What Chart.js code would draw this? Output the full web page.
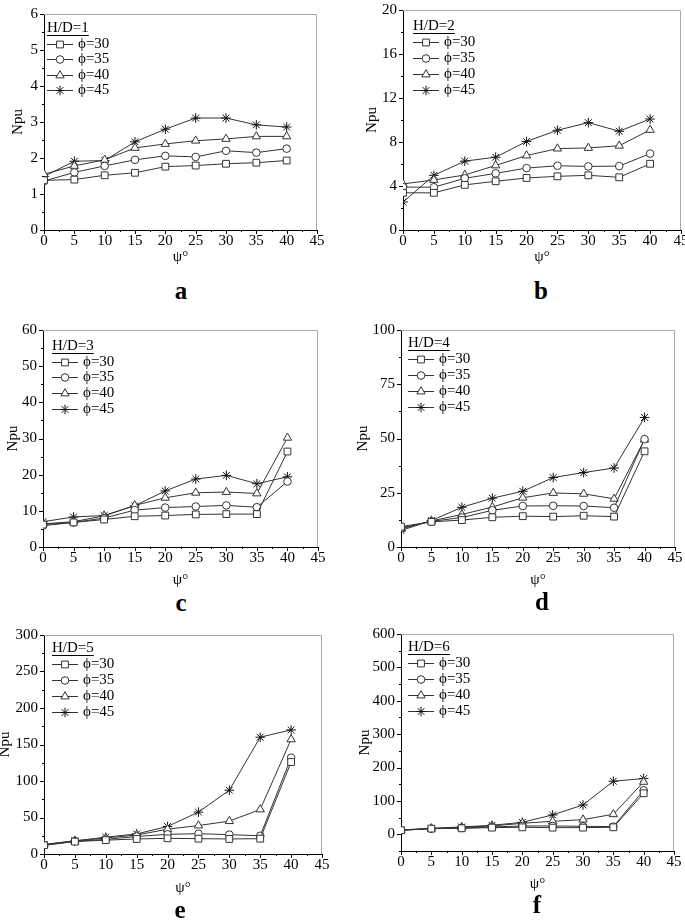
<!DOCTYPE html>
<html>
<head>
<meta charset="utf-8">
<script src="https://cdn.jsdelivr.net/npm/chart.js@4.4.0/dist/chart.umd.min.js"></script>
<style>
html,body{margin:0;padding:0;background:#fff;overflow:hidden;width:685px;height:921px}
.panel{position:absolute}
.tag{position:absolute;font:bold 25px "Liberation Serif",serif;transform:translate(-50%,-50%);color:#000}
</style>
</head>
<body>
<script>
// psi angle (x) and legend labels
const psi = [0,5,10,15,20,25,30,35,40];
const xTicks = [0,5,10,15,20,25,30,35,40,45];
const phiLabels = ['ϕ=30','ϕ=35','ϕ=40','ϕ=45'];

// Npu values, rows = phi 30, 35, 40, 45
const npuHD1 = [
  [1.38,1.40,1.52,1.59,1.76,1.79,1.84,1.87,1.93],
  [1.36,1.60,1.78,1.95,2.06,2.03,2.20,2.15,2.26],
  [1.55,1.78,1.95,2.28,2.39,2.48,2.53,2.60,2.60],
  [1.49,1.91,1.93,2.45,2.80,3.11,3.11,2.92,2.86]
];
const npuHD2 = [
  [3.38,3.38,4.10,4.43,4.73,4.88,4.97,4.79,6.02],
  [3.90,3.89,4.70,5.15,5.63,5.84,5.78,5.81,6.95],
  [4.19,4.55,5.00,5.87,6.77,7.40,7.46,7.66,9.10],
  [2.54,4.97,6.26,6.62,8.05,9.07,9.76,8.98,10.09]
];
const npuHD3 = [
  [6.2,6.8,7.6,8.5,8.7,9.0,9.1,9.1,26.4],
  [5.9,6.8,8.0,10.2,10.9,11.2,11.5,11.0,18.1],
  [6.4,7.0,8.6,11.5,13.6,15.0,15.2,14.8,30.2],
  [7.0,8.3,8.7,11.4,15.5,18.8,19.8,17.5,19.4]
];
const npuHD4 = [
  [9.4,11.6,12.4,13.7,14.2,14.0,14.4,14.0,44.1],
  [8.8,11.8,13.6,16.9,18.9,19.0,18.9,18.1,49.7],
  [8.3,12.0,15.0,18.4,22.7,24.9,24.5,22.2,49.5],
  [7.6,12.2,18.3,22.5,25.7,32.0,34.3,36.4,59.7]
];
const npuHD5 = [
  [12,17,19,20.6,21.5,21,20.6,21,126],
  [12,17.5,20,24,27,27.8,26.5,25,132],
  [13,18,22,26,34,39,45,61,157],
  [13,18,23,27.5,37.7,57.4,87.4,160,170]
];
const npuHD6 = [
  [12,17,18,20,21,20,20,21,123],
  [12,17,19,22,25,25,24,23,132],
  [13,17,21,25,33,39,44,60,157],
  [13,18,22,27,36,58,88,159,167]
];

const yTicksHD1 = [0,1,2,3,4,5,6];
const yTicksHD2 = [0,4,8,12,16,20];
const yTicksHD3 = [0,10,20,30,40,50,60];
const yTicksHD4 = [0,25,50,75,100];
const yTicksHD5 = [0,50,100,150,200,250,300];
const yTicksHD6 = [0,100,200,300,400,500,600];

// layout of each panel (plot area box in page pixels)
const panels = [
  {hd:'H/D=1', tag:'a', npu:npuHD1, yt:yTicksHD1, yMin:0, L:44, T:11, R:317, B:230, ny:18, xt:257, tx:181, ty:291, lg:{dx:3, dy:14, gap:15.5}},
  {hd:'H/D=2', tag:'b', npu:npuHD2, yt:yTicksHD2, yMin:0, L:403, T:7, R:681, B:230, ny:372, xt:257, tx:541, ty:291, lg:{dx:10, dy:16, gap:16}},
  {hd:'H/D=3', tag:'c', npu:npuHD3, yt:yTicksHD3, yMin:0, L:43, T:327, R:318, B:547, ny:13, xt:580, tx:181, ty:603, lg:{dx:9, dy:16, gap:15.7}},
  {hd:'H/D=4', tag:'d', npu:npuHD4, yt:yTicksHD4, yMin:0, L:401, T:327, R:675, B:547, ny:363, xt:580, tx:542, ty:602, lg:{dx:7, dy:13, gap:16}},
  {hd:'H/D=5', tag:'e', npu:npuHD5, yt:yTicksHD5, yMin:0, L:44, T:632, R:322, B:854, ny:5, xt:888, tx:180, ty:910, lg:{dx:8, dy:13, gap:16}},
  {hd:'H/D=6', tag:'f', npu:npuHD6, yt:yTicksHD6, yMin:-50, L:401, T:631, R:674, B:851, ny:365, xt:884, tx:537, ty:905, lg:{dx:7, dy:13, gap:16}}
];

const styles = ['rect','circle','triangle','star'];
const radii = [4.8,3.8,4.8,4.8];
const serif = '"Liberation Serif", "Times New Roman", serif';
const fsz = 15;

// top and right frame in light gray
const frame = {
  id:'frame',
  beforeDatasetsDraw(chart){
    const {ctx, chartArea:{left,top,right,bottom}} = chart;
    ctx.save();
    ctx.strokeStyle = '#a8a8a8'; ctx.lineWidth = 1;
    ctx.beginPath();
    ctx.moveTo(left, top+0.5); ctx.lineTo(right-0.5, top+0.5); ctx.lineTo(right-0.5, bottom);
    ctx.stroke();
    ctx.restore();
  }
};

// major + minor outward tick marks
const tickMarks = {
  id:'tickMarks',
  afterDraw(chart, args, opts){
    const {ctx, scales:{x,y}} = chart;
    ctx.save();
    ctx.strokeStyle = '#000'; ctx.lineWidth = 1;
    ctx.beginPath();
    const xs = (xTicks[1]-xTicks[0])/2;
    for (let v = x.min; v <= x.max + 1e-9; v += xs) {
      const px = Math.round(x.getPixelForValue(v)) + 0.5;
      const len = xTicks.includes(v) ? 4 : 2;
      ctx.moveTo(px, x.top); ctx.lineTo(px, x.top + len);
    }
    const ys = (opts.yt[1]-opts.yt[0])/2;
    for (let v = y.min; v <= y.max + 1e-9; v += ys) {
      const py = Math.round(y.getPixelForValue(v)) + 0.5;
      const len = opts.yt.includes(v) ? 4 : 2;
      ctx.moveTo(y.right, py); ctx.lineTo(y.right - len, py);
    }
    ctx.stroke();
    ctx.restore();
  }
};

// legend inside the plot, with underlined H/D title
const panelLegend = {
  id:'panelLegend',
  afterDraw(chart, args, opts){
    const {ctx, chartArea:{left, top}} = chart;
    const x0 = left + opts.dx, y0 = top + opts.dy;
    ctx.save();
    ctx.font = fsz + 'px ' + serif;
    ctx.textBaseline = 'middle'; ctx.textAlign = 'left';
    ctx.fillStyle = '#000';
    ctx.fillText(opts.title, x0, y0);
    const w = ctx.measureText(opts.title).width;
    ctx.strokeStyle = '#000'; ctx.lineWidth = 1;
    ctx.beginPath(); ctx.moveTo(x0, y0 + 7.5); ctx.lineTo(x0 + w, y0 + 7.5); ctx.stroke();
    chart.data.datasets.forEach((ds, i) => {
      const yy = Math.round(y0 + 15.5 + i*opts.gap) + 0.5;
      ctx.strokeStyle = ds.borderColor;
      ctx.beginPath(); ctx.moveTo(x0, yy); ctx.lineTo(x0 + 26, yy); ctx.stroke();
      ctx.fillStyle = '#fff'; ctx.strokeStyle = ds.pointBorderColor;
      Chart.helpers.drawPoint(ctx, {pointStyle: ds.pointStyle, radius: ds.pointRadius, borderWidth: 1, rotation: 0}, x0 + 13, yy);
      ctx.fillStyle = '#000';
      ctx.fillText(ds.label, x0 + 31, yy);
    });
    ctx.restore();
  }
};

panels.forEach(p => {
  const left = Math.round(p.ny - 9);
  const yw = p.L - left;
  const padTop = 12;
  const top = p.T - padTop;
  const xh = p.xt + 9 - p.B;
  const width = p.R + 14 - left;
  const height = Math.round(p.B + xh - top);

  const div = document.createElement('div');
  div.className = 'panel';
  div.style.left = left + 'px'; div.style.top = top + 'px';
  const cv = document.createElement('canvas');
  cv.width = width; cv.height = height;
  cv.style.width = width + 'px'; cv.style.height = height + 'px';
  div.appendChild(cv);
  document.body.appendChild(div);

  const tag = document.createElement('div');
  tag.className = 'tag';
  tag.textContent = p.tag;
  tag.style.left = p.tx + 'px'; tag.style.top = p.ty + 'px';
  document.body.appendChild(tag);

  const datasets = p.npu.map((vals, k) => ({
    label: phiLabels[k],
    data: psi.map((x, i) => ({x: x, y: vals[i]})),
    borderColor: '#333',
    borderWidth: 1,
    pointStyle: styles[k],
    pointRadius: radii[k],
    pointBackgroundColor: '#fff',
    pointBorderColor: k === 3 ? '#111' : '#333',
    pointBorderWidth: 1,
    tension: 0,
    fill: false
  }));

  new Chart(cv.getContext('2d'), {
    type: 'line',
    data: {datasets},
    options: {
      responsive: false,
      animation: false,
      layout: {padding: {top: padTop, right: 14, left: 0, bottom: 0}},
      plugins: {
        legend: {display: false},
        tooltip: {enabled: false},
        panelLegend: {title: p.hd, dx: p.lg.dx, dy: p.lg.dy, gap: p.lg.gap},
        tickMarks: {yt: p.yt}
      },
      scales: {
        x: {
          type: 'linear', min: 0, max: 45,
          afterBuildTicks: s => { s.ticks = xTicks.map(v => ({value: v})); },
          afterFit: s => { s.height = xh; },
          ticks: {font: {family: serif, size: fsz}, color: '#000', padding: 2, maxRotation: 0, autoSkip: false},
          grid: {display: false, drawTicks: false},
          border: {color: '#000', width: 1},
          title: {display: true, text: 'ψ°', font: {family: serif, size: fsz}, color: '#000', padding: 0}
        },
        y: {
          type: 'linear', min: p.yMin, max: p.yt[p.yt.length-1],
          afterBuildTicks: s => { s.ticks = p.yt.map(v => ({value: v})); },
          afterFit: s => { s.width = yw; },
          ticks: {font: {family: serif, size: fsz}, color: '#000', padding: 6, autoSkip: false},
          grid: {display: false, drawTicks: false},
          border: {color: '#000', width: 1},
          title: {display: true, text: 'Npu', font: {family: serif, size: fsz}, color: '#000', padding: 0}
        }
      }
    },
    plugins: [frame, tickMarks, panelLegend]
  });
});
</script>
</body>
</html>
